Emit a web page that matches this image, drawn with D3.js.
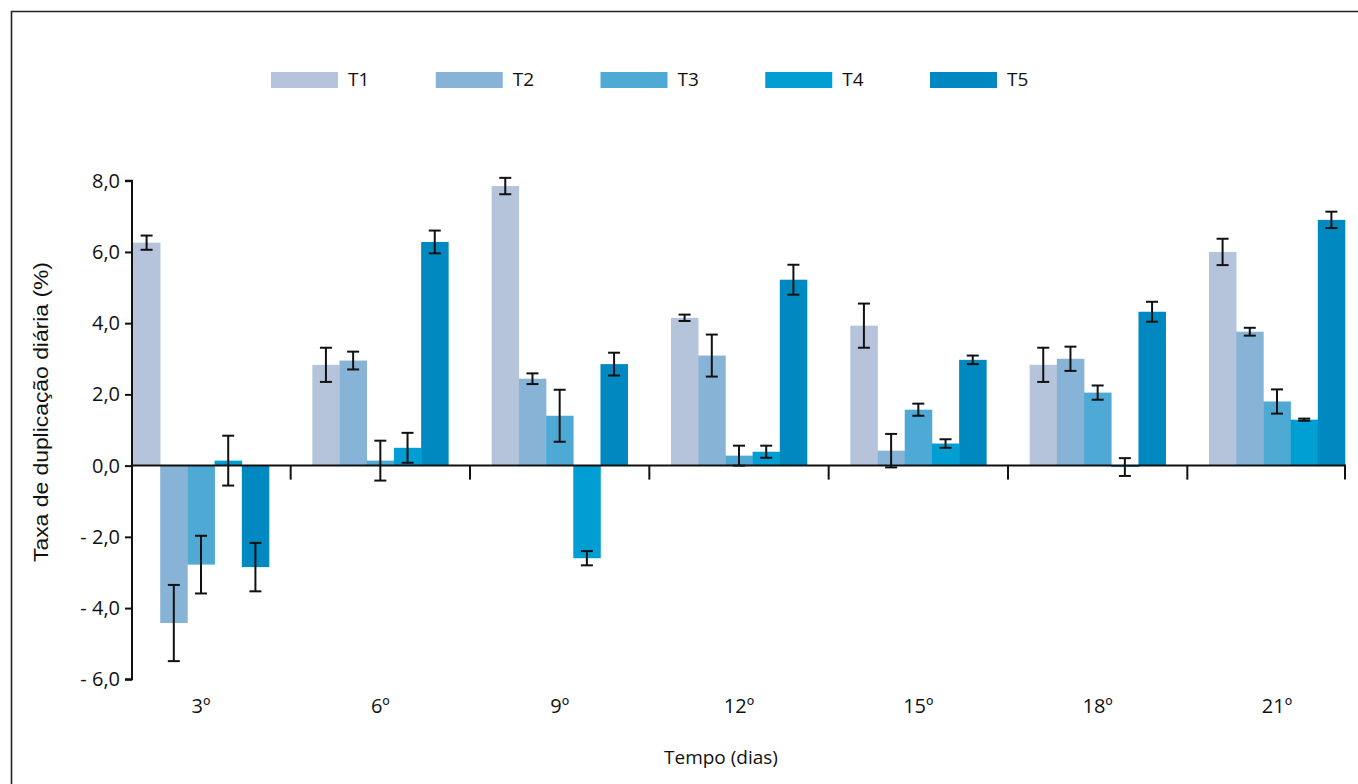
<!DOCTYPE html>
<html><head><meta charset="utf-8">
<script src="https://cdn.jsdelivr.net/npm/d3@7/dist/d3.min.js"></script>
<style>body{margin:0;background:#fff}svg{display:block}</style>
</head><body>
<script>
const categories = ["3º","6º","9º","12º","15º","18º","21º"];
const seriesNames = ["T1","T2","T3","T4","T5"];
const T1 = [6.26, 2.83, 7.85, 4.15, 3.93, 2.83, 6.00];
const T2 = [-4.42, 2.95, 2.44, 3.09, 0.42, 3.00, 3.76];
const T3 = [-2.78, 0.14, 1.40, 0.28, 1.57, 2.05, 1.80];
const T4 = [0.14, 0.50, -2.60, 0.39, 0.62, -0.04, 1.29];
const T5 = [-2.85, 6.28, 2.85, 5.22, 2.97, 4.32, 6.90];
const E1 = [0.20, 0.48, 0.23, 0.09, 0.62, 0.48, 0.37];
const E2 = [1.07, 0.25, 0.15, 0.59, 0.47, 0.34, 0.11];
const E3 = [0.81, 0.56, 0.73, 0.28, 0.17, 0.20, 0.34];
const E4 = [0.70, 0.42, 0.20, 0.17, 0.12, 0.25, 0.03];
const E5 = [0.68, 0.32, 0.32, 0.42, 0.12, 0.28, 0.23];
const yTicks = [-6, -4, -2, 0, 2, 4, 6, 8];
const colors = ["#b5c4da", "#87b4d6", "#4ea9d5", "#009ed2", "#0088c0"];

const values = [T1, T2, T3, T4, T5];
const errors = [E1, E2, E3, E4, E5];

const W = 1358, H = 784;
const svg = d3.select("body").append("svg").attr("width", W).attr("height", H);
const tickFont = "'Open Sans', 'DejaVu Sans', sans-serif";

// frame
svg.append("path").attr("d", `M11.5,${H+5}V11.5H${W+5}`).attr("fill","none").attr("stroke","#222").attr("stroke-width",1.6);

const x0 = d3.scaleBand().domain(categories).range([133, 1345]).paddingInner(0.2415).paddingOuter(0);
const x1 = d3.scaleBand().domain(seriesNames).range([0, x0.bandwidth()]).padding(0);
const y = d3.scaleLinear().domain([-6, 8]).range([679.3, 180.7]);

// bars
const groups = svg.append("g").selectAll("g").data(categories).join("g")
  .attr("transform", d => `translate(${x0(d)},0)`);
groups.each(function(cat, ci) {
  const g = d3.select(this);
  seriesNames.forEach((s, si) => {
    const v = values[si][ci];
    g.append("rect")
      .attr("x", x1(s)).attr("width", x1.bandwidth()+0.3)
      .attr("y", y(Math.max(0, v))).attr("height", Math.abs(y(v) - y(0)))
      .attr("fill", colors[si]);
  });
});

// zero line
svg.append("line").attr("x1", 133).attr("x2", 1346).attr("y1", y(0)).attr("y2", y(0))
  .attr("stroke", "#111").attr("stroke-width", 2);

// x separator ticks
const step = x0.step(), gap = step * x0.paddingInner();
const sepTicks = categories.slice(1).map(c => x0(c) - gap/2).concat([x0.range()[1]]);
svg.append("g").selectAll("line").data(sepTicks).join("line")
  .attr("x1", d => d).attr("x2", d => d).attr("y1", y(0)).attr("y2", y(0) + 14)
  .attr("stroke", "#111").attr("stroke-width", 2);

// error bars
groups.each(function(cat, ci) {
  const g = d3.select(this);
  seriesNames.forEach((s, si) => {
    const v = values[si][ci], e = errors[si][ci];
    const cx = x1(s) + x1.bandwidth()/2;
    const top = y(v + e), bot = y(v - e);
    g.append("line").attr("x1", cx).attr("x2", cx).attr("y1", top).attr("y2", bot)
      .attr("stroke", "#111").attr("stroke-width", 2);
    [top, bot].forEach(yy => g.append("line").attr("x1", cx - 6).attr("x2", cx + 6)
      .attr("y1", yy).attr("y2", yy).attr("stroke", "#111").attr("stroke-width", 2));
  });
});

// y axis
const yAxis = d3.axisLeft(y).tickValues(yTicks).tickSize(7).tickPadding(5)
  .tickFormat(d => (d < 0 ? "- " : "") + Math.abs(d).toFixed(1).replace(".", ","));
const ya = svg.append("g").attr("transform", "translate(132,0)").call(yAxis);
ya.select(".domain").attr("stroke", "#111").attr("stroke-width", 2).attr("d", `M-7,${y(8)}H0V${y(-6)}H-7`);
ya.selectAll(".tick line").attr("stroke", "#111").attr("stroke-width", 2);
ya.selectAll(".tick text").attr("font-family", tickFont).attr("font-size", 20).attr("fill", "#111");

// x labels
const xAxis = d3.axisBottom(x0).tickSize(0).tickPadding(0);
const xa = svg.append("g").attr("transform", `translate(0,${y(-6)})`).call(xAxis);
xa.select(".domain").remove();
xa.selectAll(".tick text").attr("font-family", tickFont).attr("font-size", 20).attr("fill", "#111")
  .attr("dy", null).attr("y", 34);

// axis titles
svg.append("text").attr("x", 721).attr("y", 764).attr("text-anchor", "middle")
  .attr("font-family", tickFont).attr("font-size", 19).attr("fill", "#111").text("Tempo (dias)");
svg.append("text").attr("transform", "translate(48,412) rotate(-90)").attr("text-anchor", "middle")
  .attr("font-family", "'Liberation Sans', Arial, sans-serif").attr("font-size", 20).attr("fill", "#111")
  .attr("textLength", 300).attr("lengthAdjust", "spacingAndGlyphs")
  .text("Taxa de duplicação diária (%)");

// legend
const legX = d3.scalePoint().domain(seriesNames).range([271, 930]);
const leg = svg.append("g").selectAll("g").data(seriesNames).join("g")
  .attr("transform", d => `translate(${legX(d)},72)`);
leg.append("rect").attr("width", 67).attr("height", 16).attr("fill", (d, i) => colors[i]);
leg.append("text").attr("x", 77).attr("y", 14).attr("font-family", tickFont).attr("font-size", 19)
  .attr("fill", "#111").text(d => d);
</script>
</body></html>
